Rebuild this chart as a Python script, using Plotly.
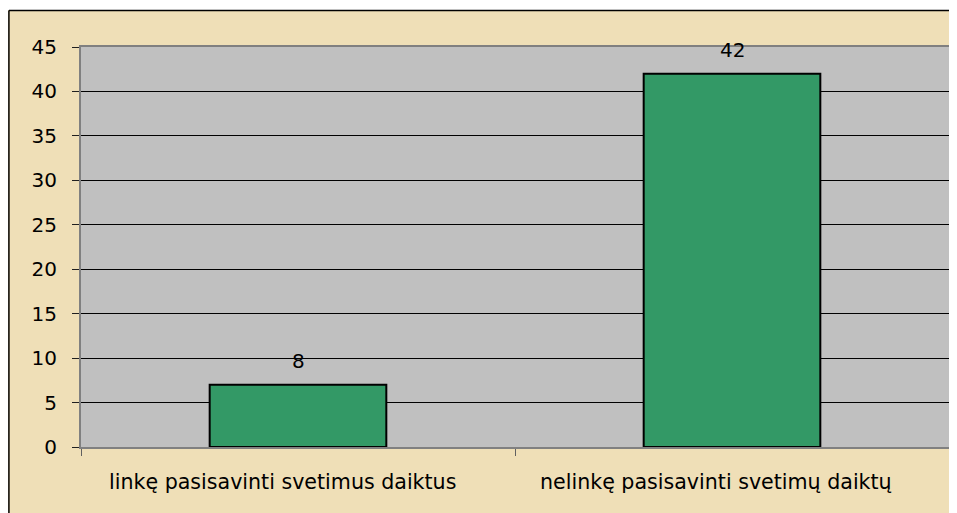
import plotly.graph_objects as go

categories = ["linkę pasisavinti svetimus daiktus", "nelinkę pasisavinti svetimų daiktų"]
values = [7, 42]
value_labels = ["8", "42"]
y_ticks = [0, 5, 10, 15, 20, 25, 30, 35, 40, 45]

# page has an 8px body margin, so the figure is sized to fit the window
W, H = 949, 505
L, R, T, B = 73, 6, 39, 66
pw, ph = W - L - R, H - T - B

def px_x(p):
    return (p - L) / pw

def px_y(p):
    return (H - B - p) / ph

fig = go.Figure()
fig.add_trace(go.Bar(
    x=categories, y=values,
    marker=dict(color="#339966", line=dict(color="black", width=2)),
    width=0.407,
))

font = dict(family="DejaVu Sans, Arial, sans-serif", size=20, color="black")
cat_font = dict(family="DejaVu Sans, Arial, sans-serif", size=20.6, color="black")

for c, v, t in zip(categories, values, value_labels):
    fig.add_annotation(x=c, y=v, text=t, showarrow=False, yanchor="bottom",
                       yshift=10, font=font)

# category labels (slightly left of the category centre, as in the original)
for c in categories:
    fig.add_annotation(x=c, y=0, xref="x", yref="paper", text=c, showarrow=False,
                       yanchor="middle", yshift=-35, xshift=-16, font=cat_font)

fig.update_layout(
    width=W, height=H,
    margin=dict(l=L, r=R, t=T, b=B),
    paper_bgcolor="#EFDFB7",
    plot_bgcolor="#C0C0C0",
    font=font,
    showlegend=False,
    xaxis=dict(
        type="category", tickson="boundaries", ticks="outside", ticklen=7,
        tickcolor="#606060", showline=True, linecolor="#808080", linewidth=2,
        mirror=True, showgrid=False, showticklabels=False,
    ),
    yaxis=dict(
        range=[0, 45], tickvals=y_ticks, ticks="outside", ticklen=7,
        tickcolor="#202020", showline=True, linecolor="#808080", linewidth=2,
        mirror=True, showgrid=True, gridcolor="black", gridwidth=1,
        zeroline=False, tickfont=font, ticklabelstandoff=11,
    ),
    shapes=[
        dict(type="rect", xref="paper", yref="paper", x0=px_x(-5), x1=px_x(W + 5),
             y0=px_y(2), y1=px_y(-5), fillcolor="white", line=dict(width=0), layer="above"),
        dict(type="line", xref="paper", yref="paper", x0=px_x(0.75), x1=px_x(W + 5),
             y0=px_y(2.5), y1=px_y(2.5), line=dict(color="black", width=1.5)),
        dict(type="line", xref="paper", yref="paper", x0=px_x(0.75), x1=px_x(0.75),
             y0=px_y(2.5), y1=px_y(H + 5), line=dict(color="black", width=1.5)),
    ],
)

fig.write_html("out.html")
